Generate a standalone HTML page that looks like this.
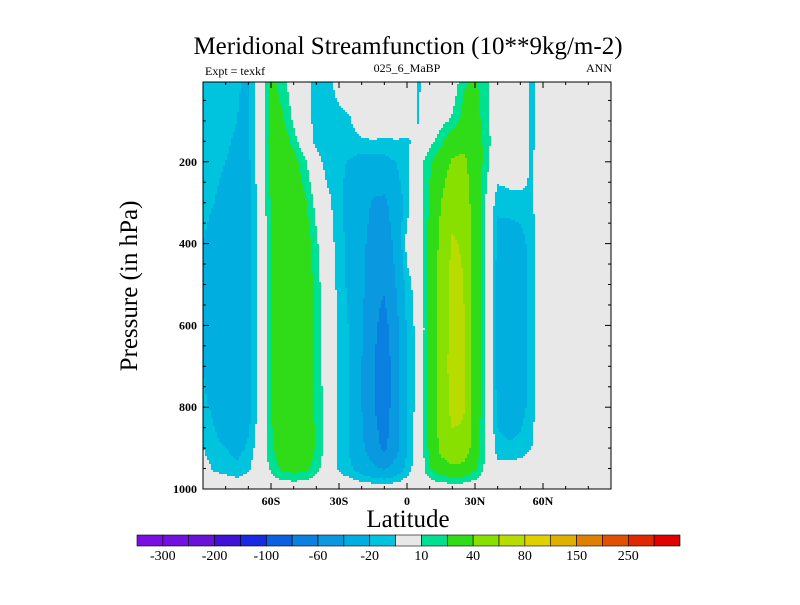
<!DOCTYPE html>
<html><head><meta charset="utf-8"><style>
body{margin:0;background:#fff;}
svg text{font-family:"Liberation Serif",serif;fill:#000;}
</style></head><body>
<svg id="chart" width="800" height="600" viewBox="0 0 800 600" xmlns="http://www.w3.org/2000/svg">
<text x="408" y="54" font-size="25" text-anchor="middle">Meridional Streamfunction (10**9kg/m-2)</text>
<text x="205" y="75" font-size="12">Expt = texkf</text>
<text x="407" y="72" font-size="12" text-anchor="middle">025_6_MaBP</text>
<text x="612" y="72" font-size="12" text-anchor="end">ANN</text>
<g id="field"></g>
<g id="axes"></g>
<text x="408" y="527" font-size="25" text-anchor="middle">Latitude</text>
<text x="0" y="0" font-size="25" text-anchor="middle" transform="translate(137,286) rotate(-90)">Pressure (in hPa)</text>
<g id="cbar"></g>
</svg>
<script>
const lats = [-90,-85,-80,-75,-70,-65,-60,-55,-50,-45,-40,-35,-30,-25,-20,-15,-10,-5,0,5,10,15,20,25,30,35,40,45,50,55,60,65,70,75,80,85,90];
const pressures = [0,100,150,200,300,400,500,600,700,800,900,950,1000];
const psi = [
[-12,-15,-17,-19,-22,-2,25,14,2,-6,-14,-14,-4,0,0,0,0,0,0,-12,0,0,0,18,22,12,0,0,0,-13,0,0,0,0,0,0,0],
[-13,-16,-18,-20,-22,-2,26,22,8,-4,-14,-16,-14,-11,0,0,0,0,-3,-11,0,6,12,25,25,14,0,0,0,-13,0,0,0,0,0,0,0],
[-14,-17,-19,-21,-22,-2,28,28,15,0,-14,-17,-16,-15,-12,-11,-12,-11,-12,-6,6,16,32,35,28,15,0,0,0,-13,0,0,0,0,0,0,0],
[-15,-18,-20,-22,-23,-3,25,32,25,12,-4,-16,-18,-21,-25,-25,-24,-20,-12,3,18,30,42,44,30,14,0,0,0,-12,0,0,0,0,0,0,0],
[-16,-20,-23,-24,-24,-4,22,32,30,22,6,-6,-18,-25,-32,-42,-44,-30,-14,2,22,40,55,50,32,8,-18,-15,-14,-12,0,0,0,0,0,0,0],
[-20,-26,-28,-28,-25,-5,20,32,33,28,12,-2,-16,-24,-35,-48,-52,-35,-6,0,25,45,62,58,30,8,-24,-28,-26,-14,0,0,0,0,0,0,0],
[-20,-28,-30,-30,-26,-5,20,32,34,30,15,0,-14,-24,-35,-55,-58,-40,-14,-4,25,48,66,60,30,8,-26,-32,-30,-14,0,0,0,0,0,0,0],
[-20,-28,-30,-30,-26,-5,20,32,34,30,16,2,-12,-22,-38,-56,-66,-48,-18,-5,25,48,66,62,30,8,-26,-32,-30,-14,0,0,0,0,0,0,0],
[-20,-28,-30,-32,-26,-5,20,32,34,30,16,3,-12,-22,-40,-58,-72,-50,-20,-5,25,48,68,64,30,8,-26,-32,-30,-14,0,0,0,0,0,0,0],
[-18,-22,-28,-32,-26,-5,20,32,34,30,17,4,-12,-22,-40,-58,-70,-50,-20,-4,25,48,65,62,30,8,-24,-30,-26,-14,0,0,0,0,0,0,0],
[-10,-18,-20,-24,-18,-2,18,30,32,30,18,5,-12,-22,-36,-52,-64,-48,-20,-2,24,45,56,55,28,8,-16,-18,-16,-10,0,0,0,0,0,0,0],
[-4,-12,-14,-18,-12,0,12,24,26,24,14,2,-12,-18,-28,-36,-42,-32,-16,-2,20,32,36,34,22,6,-6,-5,-4,-2,0,0,0,0,0,0,0],
[0,0,0,0,0,0,0,0,0,0,0,0,0,0,0,0,0,0,0,0,0,0,0,0,0,0,0,0,0,0,0,0,0,0,0,0,0]
];
const levels = [-300,-250,-200,-150,-100,-80,-60,-40,-20,-10,10,20,40,60,80,100,150,200,250,300];
const levelColors = ["#7b0fe2","#7110e0","#6a12d8","#4012d8","#1a2ae2","#0a60e0","#0a80e0","#0a98e0","#00aee0","#00c4de","#e8e8e8","#00e092","#30dc18","#88e000","#b8dc00","#e0d000","#e0b000","#e08000","#e05000","#e02800","#e00000"];
const cbarLabels = ["-300","-200","-100","-60","-20","10","40","80","150","250"];
const latTicks = [-60,-30,0,30,60];
const latTickLabels = ["60S","30S","0","30N","60N"];
const pTicks = [200,400,600,800,1000];

const NS="http://www.w3.org/2000/svg";
const X0=203,X1=611,Y0=82,Y1=489;
const xOf=lat=>407+lat*(X1-407)/90;
const yOf=p=>Y1-(1000-p)*0.409;
const pOf=y=>1000-(Y1-y)/0.409;
const latOf=x=>(x-407)*90/(X1-407);
function colorIdx(v){let i=0;while(i<levels.length&&v>=levels[i])i++;return i;}
function sample(lat,p){
  let i=Math.min(lats.length-2,Math.max(0,Math.floor((lat-lats[0])/5)));
  let tx=(lat-lats[i])/(lats[i+1]-lats[i]);tx=Math.max(0,Math.min(1,tx));
  let j=0;while(j<pressures.length-2&&p>pressures[j+1])j++;
  let ty=(p-pressures[j])/(pressures[j+1]-pressures[j]);ty=Math.max(0,Math.min(1,ty));
  const a=psi[j][i],b=psi[j][i+1],c=psi[j+1][i],d=psi[j+1][i+1];
  return (a*(1-tx)+b*tx)*(1-ty)+(c*(1-tx)+d*tx)*ty;
}
function mk(tag,attrs,parent){const e=document.createElementNS(NS,tag);for(const k in attrs)e.setAttribute(k,attrs[k]);parent.appendChild(e);return e;}
const field=document.getElementById('field');
const bg=mk('rect',{x:X0,y:Y0,width:X1-X0,height:Y1-Y0,fill:"#e8e8e8"},field);


const S=2;
for(let y=Y0;y<Y1;y+=S){
  const p=pOf(y+S/2);
  let runStart=X0,runC=-1;
  for(let x=X0;x<=X1;x+=S){
    const c=x<X1?colorIdx(sample(latOf(x+S/2),p)):-2;
    if(c!==runC){
      if(runC>=0&&runC!==10){
        const r=mk('rect',{x:runStart,y:y,width:Math.min(x,X1)-runStart,height:Math.min(S,Y1-y),fill:levelColors[runC],'shape-rendering':'crispEdges'},field);
        
        
      }
      runStart=x;runC=c;
    }
  }
}
const axes=document.getElementById('axes');
mk('rect',{x:X0,y:Y0,width:X1-X0,height:Y1-Y0,fill:"none",stroke:"#000","stroke-width":1},axes);
for(let lat=-80;lat<=80;lat+=10){
  const x=xOf(lat),major=lat%30===0;const L=major?6:3;
  mk('line',{x1:x,x2:x,y1:Y1,y2:Y1-L,stroke:"#000"},axes);
  mk('line',{x1:x,x2:x,y1:Y0,y2:Y0+L,stroke:"#000"},axes);
}
latTicks.forEach((lat,i)=>{
  const t=mk('text',{x:xOf(lat),y:Y1+16,'font-size':12,'text-anchor':'middle','font-weight':'bold'},axes);
  t.textContent=latTickLabels[i];
  
  
});
for(let p=50;p<1000;p+=50){
  const y=yOf(p),major=p%200===0;const L=major?6:3;
  mk('line',{x1:X0,x2:X0+L,y1:y,y2:y,stroke:"#000"},axes);
  mk('line',{x1:X1,x2:X1-L,y1:y,y2:y,stroke:"#000"},axes);
}
pTicks.forEach(p=>{
  const t=mk('text',{x:X0-6,y:yOf(p)+4,'font-size':12,'text-anchor':'end','font-weight':'bold'},axes);
  t.textContent=String(p);
  
  
});
const cbar=document.getElementById('cbar');
const CX0=137,CX1=680,CY=535,CH=11,bw=(CX1-CX0)/levelColors.length;
levelColors.forEach((c,i)=>{
  const r=mk('rect',{x:CX0+i*bw,y:CY,width:bw,height:CH,fill:c,stroke:"#000","stroke-width":0.6},cbar);
  
  
});
cbarLabels.forEach((lab,k)=>{
  const t=mk('text',{x:CX0+(2*k+1)*bw,y:CY+25,'font-size':14,'text-anchor':'middle'},cbar);
  t.textContent=lab;
  
  
});
</script>
</body></html>
